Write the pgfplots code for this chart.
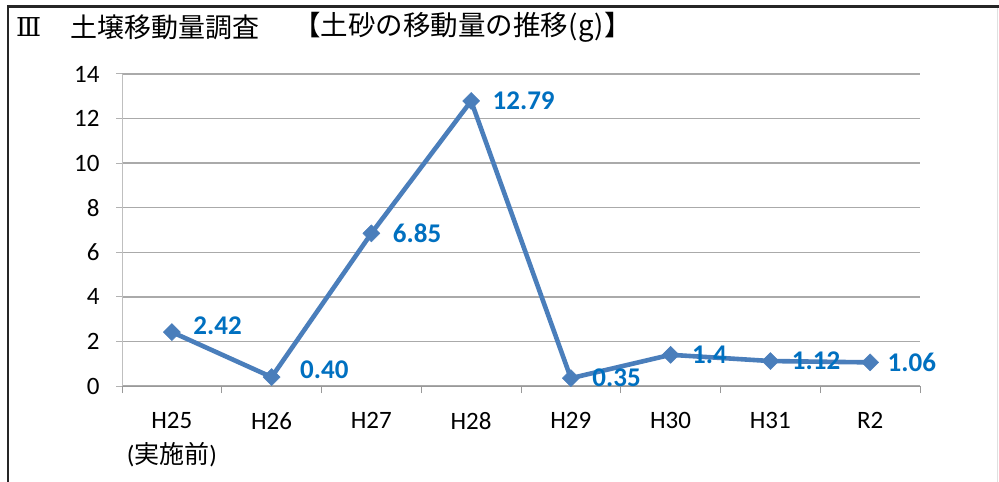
\documentclass[border=0pt]{standalone}
\usepackage{pgfplots}
\usepackage{pgfplotstable}
\pgfplotsset{compat=1.18}
\usepackage{fontspec}
\setmainfont{Carlito}
\newfontfamily\cjk{Noto Sans CJK JP}
\newfontfamily\romfont{DejaVu Serif}
\definecolor{lineblue}{RGB}{74,126,187}
\definecolor{lblblue}{RGB}{0,112,192}
\definecolor{gridgray}{RGB}{170,170,170}
\pgfplotstableread{
x y lbl dx dy
0 2.42 2.42 18 6
1 0.40 0.40 25 7
2 6.85 6.85 18 0
3 12.79 12.79 18 0
4 0.35 0.35 18 0
5 1.4 1.4 18 0
6 1.12 1.12 18 0
7 1.06 1.06 14 0
}\datatable
\begin{document}
\begin{tikzpicture}[x=1pt,y=1pt]
\useasboundingbox (0,0) rectangle (999,482);
\fill[white] (0,0) rectangle (999,482);
\draw[line width=3pt, black!85] (7,475) -- (999,475);
\draw[line width=2pt, black!85] (8,476.5) -- (8,0);
\draw[line width=1pt, black!12] (997,474) -- (997,0);
\node[anchor=west, font=\romfont\fontsize{26}{30}\selectfont, inner sep=0] at (16,454.5) {Ⅲ};
\node[anchor=west, font=\cjk\fontsize{27}{32}\selectfont, inner sep=0] at (70.5,454.5) {土壌移動量調査};
\node[anchor=west, font=\cjk\fontsize{27.5}{32}\selectfont, inner sep=0] at (293,454.5) {【土砂の移動量の推移(\kern1pt g\kern1pt)】};
\begin{axis}[
  at={(122pt,96pt)}, anchor=south west,
  scale only axis, width=798pt, height=312pt,
  xmin=-0.5, xmax=7.5, ymin=0, ymax=14,
  clip=false,
  axis x line=bottom, axis y line=left,
  axis line style={-},
  x axis line style={draw=gray!80},
  y axis line style={draw=gray!50},
  xtick={0,...,7},
  xticklabels={{H25\\({\cjk 実施前})}, H26, H27, H28, H29, H30, H31, R2},
  minor xtick={-0.5,0.5,...,7.5},
  major x tick style={draw=none},
  minor x tick style={draw=gray!80, line width=1pt},
  minor tick length=7pt,
  ytick={0,2,...,14},
  major y tick style={draw=gray!60, line width=1pt},
  major tick length=6pt,
  tick align=outside,
  ymajorgrids,
  major grid style={draw=gridgray, line width=1.3pt},
  /pgf/number format/assume math mode=true,
  tick label style={font=\fontsize{25}{35}\selectfont},
  xticklabel style={align=center, anchor=north, yshift=-17pt},
  yticklabel style={anchor=east, xshift=-13pt},
]
\addplot[color=lineblue, line width=4.6pt, mark=square*, mark size=6pt,
  mark options={rotate=45, line width=0.5pt, fill=lineblue},
  visualization depends on={\thisrow{dx} \as \dx},
  visualization depends on={\thisrow{dy} \as \dy},
  nodes near coords, point meta=explicit symbolic,
  every node near coord/.append style={anchor=west, xshift=\dx pt, yshift=\dy pt,
    font=\bfseries\fontsize{27}{32}\selectfont, text=lblblue}]
  table[x=x, y=y, meta=lbl] {\datatable};
\end{axis}
\end{tikzpicture}
\end{document}
